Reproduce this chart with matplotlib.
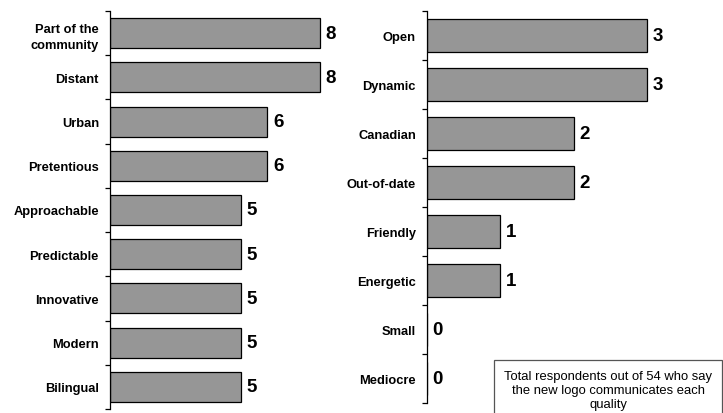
import matplotlib.pyplot as plt
from matplotlib.ticker import FixedLocator
from matplotlib.patches import Rectangle

plt.rcParams['font.family'] = ['Liberation Sans', 'DejaVu Sans']

left_labels = ['Part of the\ncommunity', 'Distant', 'Urban', 'Pretentious', 'Approachable',
               'Predictable', 'Innovative', 'Modern', 'Bilingual']
left_values = [8, 8, 6, 6, 5, 5, 5, 5, 5]

right_labels = ['Open', 'Dynamic', 'Canadian', 'Out-of-date', 'Friendly',
                'Energetic', 'Small', 'Mediocre']
right_values = [3, 3, 2, 2, 1, 1, 0, 0]

note = 'Total respondents out of 54 who say\nthe new logo communicates each\nquality'

W, H = 723, 414
fig = plt.figure(figsize=(W / 100, H / 100), dpi=100)


def px_axes(x0, y_top, w, y_bot):
    return fig.add_axes([x0 / W, (H - y_bot) / H, w / W, (y_bot - y_top) / H])


def draw(ax, labels, values, xmax):
    n = len(labels)
    y = list(range(n))
    ax.barh(y, values, height=0.68, color='#969696', edgecolor='black', linewidth=0.9)
    ax.set_xlim(0, xmax)
    ax.set_ylim(n - 0.5, -0.5)
    ax.set_yticks(y)
    ax.set_yticklabels(labels, fontweight='bold', fontsize=9.3, linespacing=1.45,
                       multialignment='right')
    ax.yaxis.set_minor_locator(FixedLocator([i - 0.5 for i in range(n + 1)]))
    ax.tick_params(axis='y', which='major', length=0, pad=8)
    ax.tick_params(axis='y', which='minor', length=3.5, width=0.9)
    ax.set_xticks([])
    for s in ['top', 'right', 'bottom']:
        ax.spines[s].set_visible(False)
    ax.spines['left'].set_linewidth(0.9)
    for yi, v in zip(y, values):
        ax.annotate(str(v), (v, yi), xytext=(4, 0), textcoords='offset points',
                    va='center', ha='left', fontsize=13.5, fontweight='bold')


ax1 = px_axes(110, 12, 262.5, 410)
draw(ax1, left_labels, left_values, 10)

ax2 = px_axes(427, 12, 293, 404)
draw(ax2, right_labels, right_values, 4)

# note box, runs off the bottom of the figure like the original
fig.patches.append(Rectangle((494 / W, -0.05), (722 - 494) / W, 0.05 + (H - 361) / H,
                             transform=fig.transFigure, facecolor='white',
                             edgecolor='#555555', linewidth=0.9))
fig.text(608 / W, (H - 391) / H, note, ha='center', va='center', fontsize=9.4,
         linespacing=1.2)

fig.savefig('out.png', dpi=100)
